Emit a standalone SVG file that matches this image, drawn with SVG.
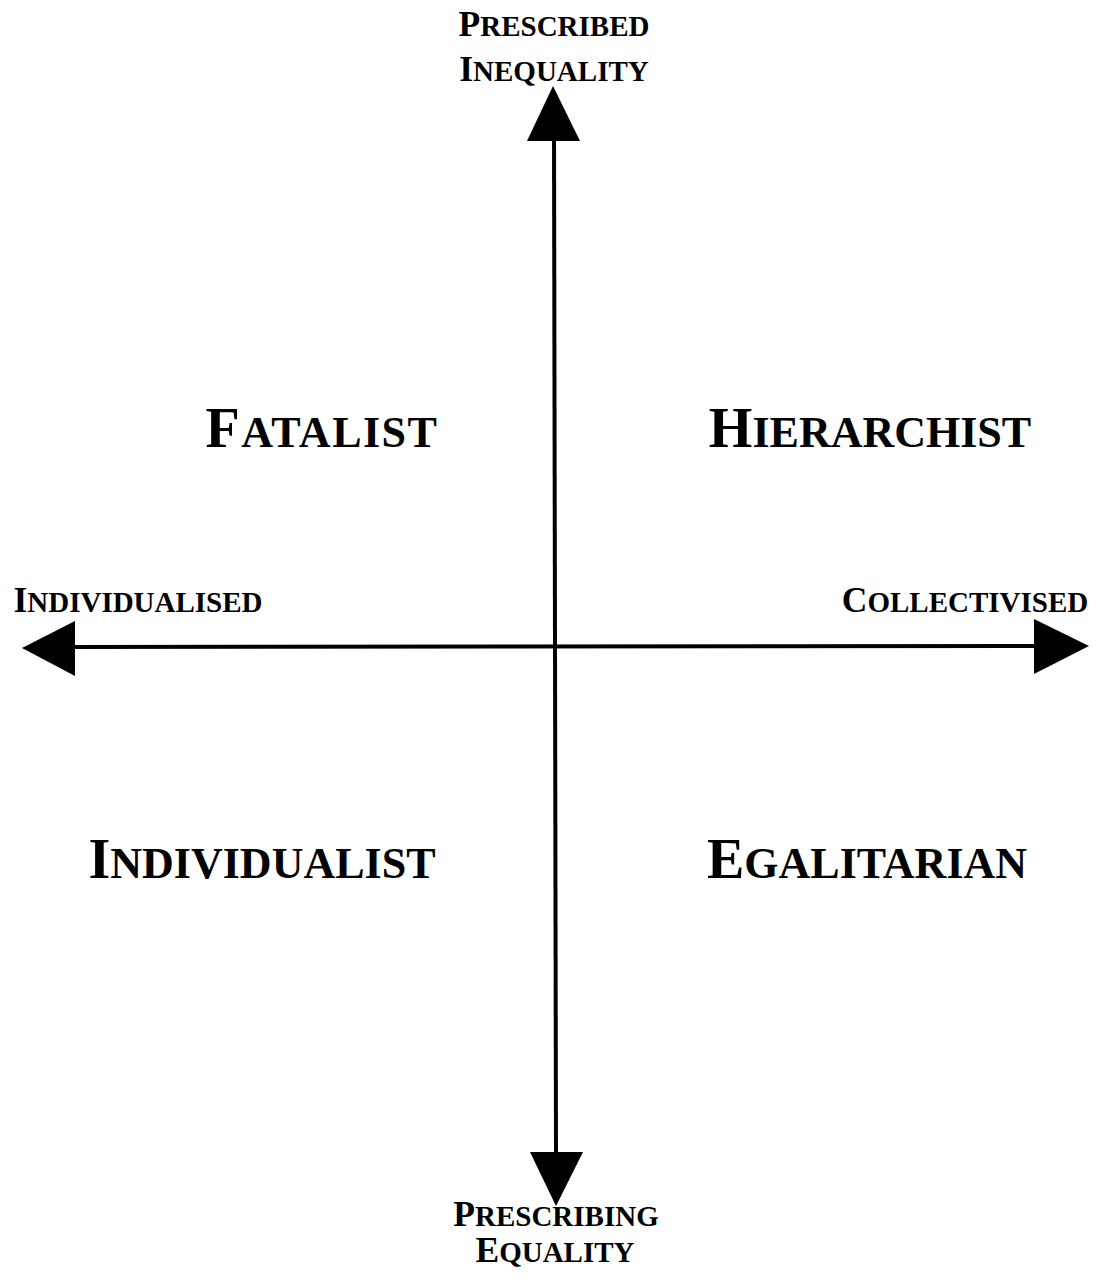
<svg xmlns="http://www.w3.org/2000/svg" width="1096" height="1287" viewBox="0 0 1096 1287">
<style>
.t{font-family:"Liberation Serif","Times New Roman",serif;font-weight:bold;fill:#000;text-anchor:middle}
.s .c{font-size:35.5px}
.s .l{font-size:29px}
.b .c{font-size:56px}
.b .l{font-size:44px}
.ax{stroke:#000;stroke-width:4;fill:none}
</style>
<rect width="1096" height="1287" fill="#fff"/>
<g id="connectors">
<line class="ax" x1="554" y1="130" x2="556" y2="1160"/>
<line class="ax" x1="70" y1="647" x2="1040" y2="646"/>
<polygon points="553,86 527,141 580,141" fill="#000"/>
<polygon points="556,1206 530,1152 583,1152" fill="#000"/>
<polygon points="22,648 75,621 75,676" fill="#000"/>
<polygon points="1089,646 1034,619 1034,674" fill="#000"/>
</g>
<g id="axis-top"><text class="t s" x="554" y="36"><tspan class="c">P</tspan><tspan class="l">RESCRIBED</tspan></text><text class="t s" x="554" y="81"><tspan class="c">I</tspan><tspan class="l">NEQUALITY</tspan></text></g>
<g id="axis-bottom"><text class="t s" x="556" y="1226"><tspan class="c">P</tspan><tspan class="l">RESCRIBING</tspan></text><text class="t s" x="555" y="1262"><tspan class="c">E</tspan><tspan class="l">QUALITY</tspan></text></g>
<g id="axis-left"><text class="t s" x="138" y="612"><tspan class="c">I</tspan><tspan class="l">NDIVIDUALISED</tspan></text></g>
<g id="axis-right"><text class="t s" x="965" y="612"><tspan class="c">C</tspan><tspan class="l">OLLECTIVISED</tspan></text></g>
<g id="fatalist"><text class="t b" x="322" y="447" letter-spacing="1.5"><tspan class="c">F</tspan><tspan class="l">ATALIST</tspan></text></g>
<g id="hierarchist"><text class="t b" x="870" y="447"><tspan class="c">H</tspan><tspan class="l">IERARCHIST</tspan></text></g>
<g id="individualist"><text class="t b" x="262" y="878"><tspan class="c">I</tspan><tspan class="l">NDIVIDUALIST</tspan></text></g>
<g id="egalitarian"><text class="t b" x="867" y="878"><tspan class="c">E</tspan><tspan class="l">GALITARIAN</tspan></text></g>
</svg>
